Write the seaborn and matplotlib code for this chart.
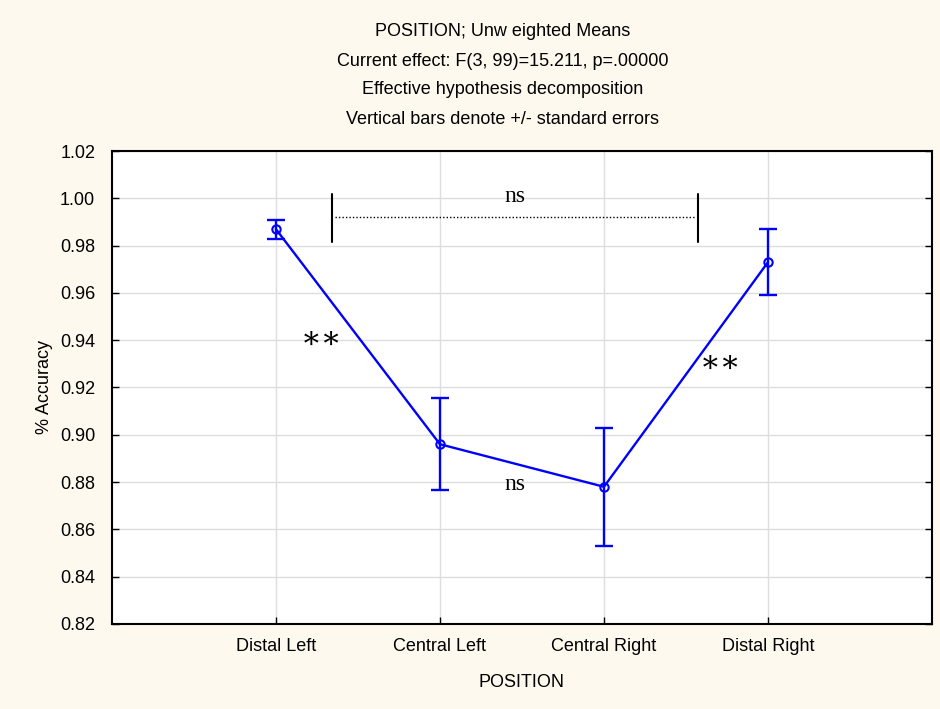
import matplotlib
matplotlib.use("Agg")
import matplotlib.pyplot as plt
import seaborn as sns
import numpy as np
import pandas as pd

categories = ["Distal Left", "Central Left", "Central Right", "Distal Right"]
means = [0.987, 0.896, 0.878, 0.973]
std_errs = [0.004, 0.0195, 0.025, 0.014]
y_ticks = [0.82, 0.84, 0.86, 0.88, 0.90, 0.92, 0.94, 0.96, 0.98, 1.00, 1.02]
title_lines = [
    "POSITION; Unw eighted Means",
    "Current effect: F(3, 99)=15.211, p=.00000",
    "Effective hypothesis decomposition",
    "Vertical bars denote +/- standard errors",
]

sns.set_style("white")
plt.rcParams["font.family"] = ["Liberation Sans", "DejaVu Sans"]
plt.rcParams["text.color"] = "black"
plt.rcParams["axes.labelcolor"] = "black"
plt.rcParams["xtick.color"] = "black"
plt.rcParams["ytick.color"] = "black"

bg = "#FEF9EE"
fig = plt.figure(figsize=(9.4, 7.09), dpi=100, facecolor=bg)
ax = fig.add_axes([0.119, 0.120, 0.8725, 0.667])
ax.set_facecolor("white")

pos = np.arange(len(categories))
df = pd.DataFrame({"pos": pos, "mean": means, "se": std_errs})

ax.errorbar(df["pos"], df["mean"], yerr=df["se"], fmt="none", ecolor="#0000FF",
            elinewidth=1.7, capsize=6.5, capthick=1.7, zorder=3)
sns.lineplot(data=df, x="pos", y="mean", ax=ax, color="#0000FF", linewidth=1.7,
             marker="o", markersize=6, markerfacecolor="none",
             markeredgecolor="#0000FF", markeredgewidth=1.5, zorder=4)

ax.set_xlim(-1, 4)
ax.set_ylim(0.82, 1.02)
ax.set_xticks(pos)
ax.set_xticklabels(categories, fontsize=13)
ax.set_yticks(y_ticks)
ax.set_yticklabels([f"{v:.2f}" for v in y_ticks], fontsize=13)
ax.grid(True, color="#DDDDDD", linewidth=1)
ax.set_axisbelow(True)
for s in ax.spines.values():
    s.set_color("black")
    s.set_linewidth(1.5)
ax.tick_params(axis="both", direction="in", length=5, width=1, colors="black",
               right=True, left=True, bottom=True)
ax.tick_params(axis="x", pad=10)
ax.tick_params(axis="y", pad=12)
ax.set_xlabel("POSITION", fontsize=13, labelpad=14)
ax.set_ylabel("% Accuracy", fontsize=13, labelpad=5)

# significance annotations
ax.plot([0.34, 0.34], [0.9816, 1.0018], color="black", linewidth=1.5)
ax.plot([2.574, 2.574], [0.9816, 1.0018], color="black", linewidth=1.5)
ax.plot([0.36, 2.56], [0.9922, 0.9922], color="black", linewidth=1, linestyle=(0, (1, 1.5)))
serif = ["Liberation Serif", "DejaVu Serif"]
ax.text(1.457, 1.0006, "ns", fontsize=17, family=serif, ha="center", va="center")
ax.text(1.457, 0.8788, "ns", fontsize=17, family=serif, ha="center", va="center")
ax.text(0.28, 0.9397, "\u2217\u2217", fontsize=22, family=serif, ha="center", va="center")
ax.text(2.71, 0.9297, "\u2217\u2217", fontsize=22, family=serif, ha="center", va="center")

ys = [31, 61, 90, 120]
for t, y in zip(title_lines, ys):
    fig.text(0.5345, 1 - y / 709, t, ha="center", va="center", fontsize=13)

fig.savefig("out.png", dpi=100, facecolor=bg)
